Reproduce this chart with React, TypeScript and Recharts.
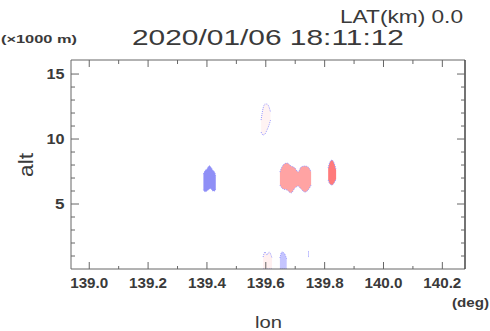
import React from 'react';
import { ComposedChart, Area, XAxis, YAxis } from 'recharts';

// ---- axes ----
const xDomain = [138.938, 140.277];
const yDomain = [0, 16.08];
const xMajorTicks = [139.0, 139.2, 139.4, 139.6, 139.8, 140.0, 140.2];
const xMinorTicks = [139.1, 139.3, 139.5, 139.7, 139.9, 140.1];
const yMajorTicks = [5, 10, 15];
const yMinorTicks = [1, 2, 3, 4, 6, 7, 8, 9, 11, 12, 13, 14];

// ---- echo cells (lon, alt bottom, alt top) ----
const blueLon = [139.388, 139.393, 139.4, 139.408, 139.413, 139.42, 139.427, 139.43];
const blueLow = [6.1, 5.95, 6.0, 6.15, 6.2, 6.0, 6.0, 6.2];
const blueHigh = [7.3, 7.55, 7.7, 7.95, 7.85, 7.6, 7.4, 7.1];

const paleTopLon = [139.584, 139.591, 139.597, 139.604, 139.611, 139.616];
const paleTopLow = [10.54, 10.31, 10.38, 10.69, 11.08, 11.46];
const paleTopHigh = [11.46, 12.38, 12.69, 12.69, 12.46, 12.08];

const salmonLon = [139.648, 139.659, 139.672, 139.686, 139.699, 139.71, 139.72, 139.733, 139.744, 139.754];
const salmonLow = [6.46, 6.15, 6.08, 5.85, 6.23, 6.38, 6.15, 5.92, 6.08, 6.46];
const salmonHigh = [7.46, 8.0, 8.15, 7.92, 7.77, 7.46, 7.85, 7.92, 7.85, 7.46];

const redLon = [139.812, 139.818, 139.825, 139.832, 139.839];
const redLow = [6.85, 6.54, 6.46, 6.62, 6.92];
const redHigh = [7.77, 8.23, 8.38, 8.15, 7.62];

const paleLowLon = [139.591, 139.597, 139.604, 139.611, 139.621];
const paleLowLow = [0, 0, 0, 0, 0];
const paleLowHigh = [0.92, 1.31, 1.08, 1.31, 0.85];

const lightBlueLon = [139.648, 139.655, 139.662, 139.671];
const lightBlueLow = [0, 0, 0, 0];
const lightBlueHigh = [0.85, 1.31, 1.23, 0.77];

const tinyLon = [139.744, 139.746];
const tinyLow = [0.95, 0.95];
const tinyHigh = [1.35, 1.35];

const build = (lons: number[], lows: number[], highs: number[]) =>
  lons.map((lon, i) => ({ lon, range: [lows[i], highs[i]] }));

const series = [
  { id: 'blue', data: build(blueLon, blueLow, blueHigh), fill: '#8f8ff6' },
  { id: 'paleTop', data: build(paleTopLon, paleTopLow, paleTopHigh), fill: '#fff3f3' },
  { id: 'salmon', data: build(salmonLon, salmonLow, salmonHigh), fill: '#ffa3a3' },
  { id: 'red', data: build(redLon, redLow, redHigh), fill: '#ff7a7a' },
  { id: 'paleLow', data: build(paleLowLon, paleLowLow, paleLowHigh), fill: '#fff0f0' },
  { id: 'lightBlue', data: build(lightBlueLon, lightBlueLow, lightBlueHigh), fill: '#c4c4ff' },
  { id: 'tiny', data: build(tinyLon, tinyLow, tinyHigh), fill: '#a0a0ff' },
];

const FRAME = '#666666';
const TEXT = '#3a3a3a';
const FONT = '"Liberation Sans", Arial, sans-serif';

const xTicks = [...xMajorTicks, ...xMinorTicks].sort((a, b) => a - b);
const yTicks = [...yMajorTicks, ...yMinorTicks].sort((a, b) => a - b);
const isMajor = (arr: number[], v: number) => arr.some((m) => Math.abs(m - v) < 1e-6);

const BottomTick = (props: any) => {
  const { x, y, payload } = props;
  const major = isMajor(xMajorTicks, payload.value);
  return (
    <g>
      <line x1={x} x2={x} y1={y} y2={y - (major ? 7 : 3)} stroke={FRAME} strokeWidth={1} />
      {major && (
        <text x={x} y={y + 19} textAnchor="middle" fill={TEXT} fontFamily={FONT} fontWeight="bold" fontSize={14} textLength={38} lengthAdjust="spacingAndGlyphs">
          {Number(payload.value).toFixed(1)}
        </text>
      )}
    </g>
  );
};

const TopTick = (props: any) => {
  const { x, y, payload } = props;
  const major = isMajor(xMajorTicks, payload.value);
  return <line x1={x} x2={x} y1={y} y2={y + (major ? 7 : 4)} stroke={FRAME} strokeWidth={1} />;
};

const LeftTick = (props: any) => {
  const { x, y, payload } = props;
  const major = isMajor(yMajorTicks, payload.value);
  const label = String(payload.value);
  return (
    <g>
      <line x1={x} x2={x + (major ? 8 : 4)} y1={y} y2={y} stroke={FRAME} strokeWidth={1} />
      {major && (
        <text x={x - 6.5} y={y + 5} textAnchor="end" fill={TEXT} fontFamily={FONT} fontWeight="bold" fontSize={15} textLength={label.length > 1 ? 18 : 9.5} lengthAdjust="spacingAndGlyphs">
          {label}
        </text>
      )}
    </g>
  );
};

const RightTick = (props: any) => {
  const { x, y, payload } = props;
  const major = isMajor(yMajorTicks, payload.value);
  return <line x1={x} x2={x - (major ? 8 : 4)} y1={y} y2={y} stroke={FRAME} strokeWidth={1} />;
};

export default function App() {
  return (
    <div style={{ position: 'absolute', left: 0, top: 0, width: 490, height: 331, background: '#fff' }}>
      <ComposedChart width={490} height={331} margin={{ top: 59, right: 24, bottom: 0, left: 0 }}>
        <XAxis
          xAxisId="b"
          orientation="bottom"
          type="number"
          dataKey="lon"
          domain={xDomain}
          allowDataOverflow
          ticks={xTicks}
          interval={0}
          tickSize={0}
          tickMargin={0}
          tickLine={false}
          axisLine={{ stroke: FRAME }}
          height={62}
          tick={<BottomTick />}
        />
        <XAxis
          xAxisId="t"
          orientation="top"
          type="number"
          dataKey="lon"
          domain={xDomain}
          allowDataOverflow
          ticks={xTicks}
          interval={0}
          tickSize={0}
          tickMargin={0}
          tickLine={false}
          axisLine={{ stroke: FRAME }}
          height={1}
          tick={<TopTick />}
        />
        <YAxis
          yAxisId="l"
          orientation="left"
          type="number"
          domain={yDomain}
          allowDataOverflow
          ticks={yTicks}
          interval={0}
          tickSize={0}
          tickMargin={0}
          tickLine={false}
          axisLine={{ stroke: FRAME }}
          width={71}
          tick={<LeftTick />}
        />
        <YAxis
          yAxisId="r"
          orientation="right"
          type="number"
          domain={yDomain}
          allowDataOverflow
          ticks={yTicks}
          interval={0}
          tickSize={0}
          tickMargin={0}
          tickLine={false}
          axisLine={{ stroke: '#444444', strokeWidth: 1.5 }}
          width={1}
          tick={<RightTick />}
        />
        {series.map((s) => (
          <Area
            key={s.id}
            xAxisId="b"
            yAxisId="l"
            data={s.data}
            dataKey="range"
            type="monotone"
            fill={s.fill}
            fillOpacity={1}
            stroke="#9a9aff"
            strokeWidth={1}
            strokeDasharray="1 1"
            dot={false}
            activeDot={false}
            isAnimationActive={false}
          />
        ))}
        <Area
          xAxisId="t"
          yAxisId="r"
          data={series[3].data}
          dataKey="range"
          type="monotone"
          fill="none"
          stroke="none"
          dot={false}
          activeDot={false}
          isAnimationActive={false}
        />
      </ComposedChart>
      <svg width={490} height={331} style={{ position: 'absolute', left: 0, top: 0, pointerEvents: 'none' }}>
        <text x={340} y={23} fill={TEXT} fontFamily={FONT} fontSize={18} textLength={123} lengthAdjust="spacingAndGlyphs">LAT(km) 0.0</text>
        <text x={132} y={45} fill={TEXT} fontFamily={FONT} fontSize={22} textLength={272} lengthAdjust="spacingAndGlyphs">2020/01/06 18:11:12</text>
        <text x={1} y={43} fill={TEXT} fontFamily={FONT} fontWeight="bold" fontSize={11} textLength={76} lengthAdjust="spacingAndGlyphs">(×1000 m)</text>
        <text x={33} y={177} transform="rotate(-90 33 177)" fill={TEXT} fontFamily={FONT} fontSize={20} textLength={24} lengthAdjust="spacingAndGlyphs">alt</text>
        <text x={255} y={328} fill={TEXT} fontFamily={FONT} fontSize={17} textLength={27} lengthAdjust="spacingAndGlyphs">lon</text>
        <text x={452} y={307} fill={TEXT} fontFamily={FONT} fontWeight="bold" fontSize={12} textLength={37} lengthAdjust="spacingAndGlyphs">(deg)</text>
      </svg>
    </div>
  );
}
